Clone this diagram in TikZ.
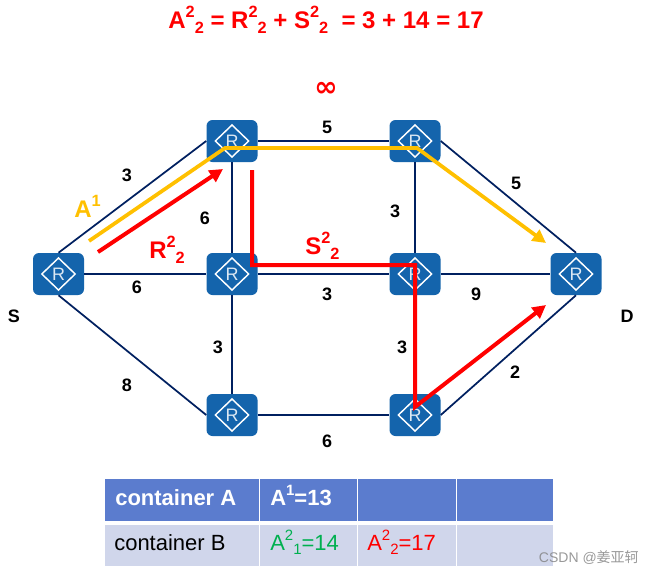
\documentclass[tikz,border=0pt]{standalone}
\usepackage{fontspec}
\setmainfont{Liberation Sans}
\newfontfamily\cjkfont{Noto Sans CJK SC}
\newfontfamily\symfont{DejaVu Sans}
\definecolor{routerblue}{HTML}{1464AC}
\definecolor{linknavy}{HTML}{002060}
\definecolor{tablehead}{HTML}{5B7CCE}
\definecolor{tablerow}{HTML}{D0D6EB}
\definecolor{pathred}{HTML}{FF0000}
\definecolor{pathyellow}{HTML}{FFC000}
\definecolor{pathgreen}{HTML}{00B050}
\usetikzlibrary{arrows.meta}
\newcommand{\fsz}[1]{\fontsize{#1}{#1}\selectfont}
\newcommand{\supsub}[2]{\raisebox{.42em}{\scalebox{.68}{#1}}\raisebox{-.22em}{\scalebox{.68}{#2}}}
\newcommand{\suponly}[1]{\raisebox{.42em}{\scalebox{.68}{#1}}}
\tikzset{
  x=0.75pt,y=-0.75pt,
  router/.style={rounded corners=4.5pt,fill=routerblue,minimum width=38.25pt,minimum height=31.5pt,inner sep=0pt,text=white!85!routerblue,font=\fsz{13.5},
    path picture={\draw[white,line width=1.1pt,sharp corners] ([xshift=-12.5pt]path picture bounding box.center)--([yshift=12pt]path picture bounding box.center)--([xshift=12.5pt]path picture bounding box.center)--([yshift=-12pt]path picture bounding box.center)--cycle;}},
  link/.style={draw=linknavy,line width=1.3pt},
  weight/.style={font=\bfseries\fsz{13.5},text=black,inner sep=0pt},
  redpath/.style={draw=pathred,line width=3pt,line join=miter,-{Triangle[length=10pt,width=10pt]}},
  yellowpath/.style={draw=pathyellow,line width=2.8pt,line join=miter,-{Triangle[length=10pt,width=10pt]}},
  plabel/.style={font=\bfseries\fsz{18},inner sep=0pt},
  cellh/.style={fill=tablehead,minimum height=31.5pt,inner sep=0pt},
  cellb/.style={fill=tablerow,minimum height=30.75pt,inner sep=0pt},
  txth/.style={anchor=base west,inner sep=0pt,text=white,font=\bfseries\fsz{16.5}},
  txtb/.style={anchor=base west,inner sep=0pt,font=\fsz{16.5}},
}
\begin{document}
\begin{tikzpicture}
\useasboundingbox (0,0) rectangle (655,575);
\fill[white] (0,0) rectangle (655,575);
\node[router] (S) at (58.5,274) {R};
\node[router] (t1) at (232,141) {R};
\node[router] (t2) at (415,141) {R};
\node[router] (m1) at (232,274) {R};
\node[router] (m2) at (415,274) {R};
\node[router] (D) at (576,274) {R};
\node[router] (b1) at (232,415) {R};
\node[router] (b2) at (415,415) {R};
\draw[link] (S.north) -- (t1.west);
\draw[link] (S.east) -- (m1.west);
\draw[link] (S.south) -- (b1.west);
\draw[link] (t1.east) -- (t2.west);
\draw[link] (t1.south) -- (m1.north);
\draw[link] (m1.east) -- (m2.west);
\draw[link] (m1.south) -- (b1.north);
\draw[link] (t2.south) -- (m2.north);
\draw[link] (m2.east) -- (D.west);
\draw[link] (m2.south) -- (b2.north);
\draw[link] (b1.east) -- (b2.west);
\draw[link] (t2.east) -- (D.north);
\draw[link] (b2.east) -- (D.south);
% weights
\node[weight] (w1) at (127,175) {3};
\node[weight] (w2) at (327,127) {5};
\node[weight] (w3) at (516,183) {5};
\node[weight] (w4) at (205,218) {6};
\node[weight] (w5) at (395,211) {3};
\node[weight] (w6) at (137,287) {6};
\node[weight] (w7) at (327,294) {3};
\node[weight] (w8) at (476,294) {9};
\node[weight] (w9) at (218,347) {3};
\node[weight] (w10) at (402,347) {3};
\node[weight] (w11) at (127,385) {8};
\node[weight] (w12) at (515,372) {2};
\node[weight] (w13) at (327,441) {6};
\node[weight] (ns) at (14,316) {S};
\node[weight] (nd) at (627,316) {D};
% paths
\coordinate (ya) at (89,241);
\coordinate (yb) at (225,148);
\coordinate (yc) at (417,148);
\coordinate (yd) at (546,243);
\draw[yellowpath] (ya) -- (yb) -- (yc) -- (yd);
\coordinate (ra) at (98,252);
\coordinate (rb) at (223,169);
\draw[redpath] (ra) -- (rb);
\coordinate (sa) at (252,170);
\coordinate (sb) at (252,265);
\coordinate (sc) at (415,265);
\coordinate (sd) at (415,407);
\coordinate (se) at (546,305);
\draw[redpath] (sa) -- (sb) -- (sc) -- (sd) -- (se);
% labels
\node[plabel,text=pathred,anchor=base] (title) at (326,28) {A\supsub{2}{2} = R\supsub{2}{2} + S\supsub{2}{2}\ \ = 3 + 14 = 17};
\node[text=pathred,inner sep=0pt,font=\symfont\bfseries\fsz{21}] (inf) at (326,89) {∞};
\node[plabel,text=pathyellow,anchor=base west] (la) at (74,217) {A\suponly{1}};
\node[plabel,text=pathred,anchor=base west] (lr) at (149,258) {R\supsub{2}{2}};
\node[plabel,text=pathred,anchor=base west] (ls) at (305,254) {S\supsub{2}{2}};
% table
\node[cellh,minimum width=115.5pt] (c11) at (182,500) {};
\node[cellh,minimum width=72.5pt] (c12) at (308.5,500) {};
\node[cellh,minimum width=73pt] (c13) at (407,500) {};
\node[cellh,minimum width=72pt] (c14) at (505,500) {};
\node[cellb,minimum width=115.5pt] (c21) at (182,545.5) {};
\node[cellb,minimum width=72.5pt] (c22) at (308.5,545.5) {};
\node[cellb,minimum width=73pt] (c23) at (407,545.5) {};
\node[cellb,minimum width=72pt] (c24) at (505,545.5) {};
\node[txth] (tc1) at (115,505) {container A};
\node[txth] (tc2) at (270,505) {A\suponly{1}=13};
\node[txtb] (tc3) at (114,550) {container B};
\node[txtb,text=pathgreen] (tc4) at (270,550) {A\supsub{2}{1}=14};
\node[txtb,text=pathred] (tc5) at (367,550) {A\supsub{2}{2}=17};
\node[inner sep=0pt,anchor=east,text=gray,opacity=.8,font=\fsz{10.5}] (wm) at (639,558) {CSDN @{\cjkfont 姜亚轲}};
\end{tikzpicture}
\end{document}
